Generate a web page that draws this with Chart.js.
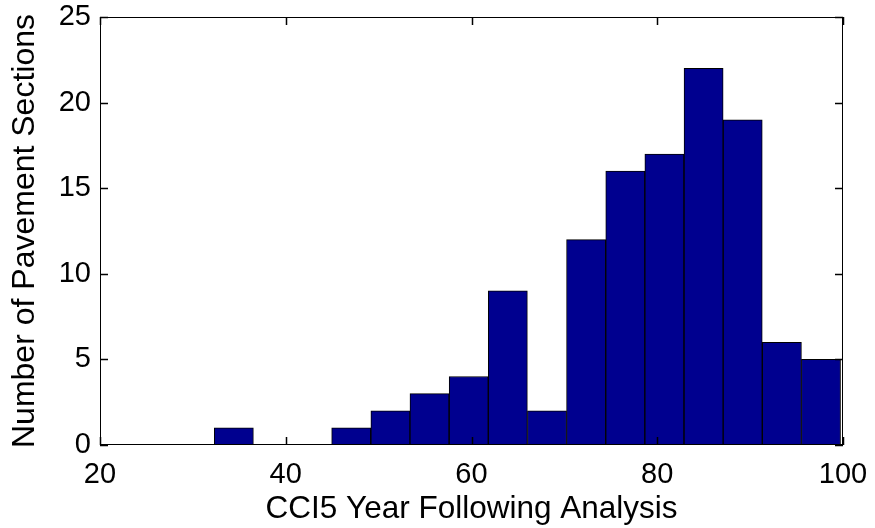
<!DOCTYPE html>
<html>
<head>
<meta charset="utf-8">
<title>CCI histogram</title>
<script src="https://cdn.jsdelivr.net/npm/chart.js@4"></script>
<style>
    html, body { margin: 0; padding: 0; background: #ffffff; }
    #wrap { width: 875px; height: 528px; }
</style>
</head>
<body>
<div id="wrap"><canvas id="histChart" width="875" height="528"></canvas></div>
<script>
// bin centres of the 16-bin histogram and the section counts in each bin
const binCenters = [34.41, 38.62, 42.84, 47.05, 51.27, 55.48, 59.70, 63.91,
                    68.13, 72.34, 76.56, 80.77, 84.99, 89.20, 93.42, 97.63];
const sectionCounts = [1, 0, 0, 1, 2, 3, 4, 9, 2, 12, 16, 17, 22, 19, 6, 5];

const xTicks = [20, 40, 60, 80, 100];
const yTicks = [0, 5, 10, 15, 20, 25];

const xLabel = 'CCI5 Year Following Analysis';
const yLabel = 'Number of Pavement Sections';

const FONT = "'Liberation Sans', Arial, sans-serif";

// boxed axes with short inward ticks on all four sides
const boxTicks = {
    id: 'boxTicks',
    afterDraw(chart) {
        const { ctx, chartArea: a, scales } = chart;
        const len = 8;
        ctx.save();
        ctx.strokeStyle = '#000000';
        ctx.lineWidth = 1;
        ctx.strokeRect(a.left + 0.5, a.top + 0.5, a.right - a.left - 1, a.bottom - a.top - 1);
        ctx.lineWidth = 1.5;
        ctx.beginPath();
        xTicks.forEach(v => {
            const px = Math.round(scales.x.getPixelForValue(v)) + 0.5;
            ctx.moveTo(px, a.bottom);
            ctx.lineTo(px, a.bottom - len);
            ctx.moveTo(px, a.top);
            ctx.lineTo(px, a.top + len);
        });
        yTicks.forEach(v => {
            const py = Math.round(scales.y.getPixelForValue(v)) + 0.5;
            ctx.moveTo(a.left, py);
            ctx.lineTo(a.left + len, py);
            ctx.moveTo(a.right, py);
            ctx.lineTo(a.right - len, py);
        });
        ctx.stroke();
        ctx.restore();
    }
};

// fixed axis box size; label overhang is left to the layout padding
function fixBox(scale, w, h) {
    if (w !== null) scale.width = w;
    if (h !== null) scale.height = h;
    scale.paddingTop = 0;
    scale.paddingBottom = 0;
    scale.paddingLeft = 0;
    scale.paddingRight = 0;
}

document.addEventListener('DOMContentLoaded', () => {
    const ctx = document.getElementById('histChart').getContext('2d');

    new Chart(ctx, {
        type: 'bar',
        data: {
            datasets: [{
                data: binCenters.map((x, i) => ({ x: x, y: sectionCounts[i] })),
                backgroundColor: '#00008f',
                borderColor: '#000000',
                borderWidth: 1,
                borderSkipped: false,
                barPercentage: 1,
                categoryPercentage: 1
            }]
        },
        options: {
            responsive: false,
            animation: false,
            devicePixelRatio: 1,
            layout: { padding: { top: 17, right: 32, left: 0, bottom: 0 } },
            plugins: {
                legend: { display: false },
                tooltip: { enabled: false }
            },
            scales: {
                x: {
                    type: 'linear',
                    min: 20,
                    max: 100,
                    offset: false,
                    afterBuildTicks: scale => {
                        scale.ticks = xTicks.map(v => ({ value: v }));
                    },
                    afterFit: scale => fixBox(scale, null, 83),
                    grid: { display: false, drawTicks: false },
                    border: { display: false },
                    ticks: {
                        color: '#000000',
                        padding: 13,
                        maxRotation: 0,
                        font: { family: FONT, size: 29 }
                    },
                    title: {
                        display: true,
                        text: xLabel,
                        color: '#000000',
                        padding: { top: 0, bottom: 0 },
                        font: { family: FONT, size: 31.5 }
                    }
                },
                y: {
                    min: 0,
                    max: 25,
                    afterBuildTicks: scale => {
                        scale.ticks = yTicks.map(v => ({ value: v }));
                    },
                    afterFit: scale => fixBox(scale, 100, null),
                    grid: { display: false, drawTicks: false },
                    border: { display: false },
                    ticks: {
                        color: '#000000',
                        padding: 9,
                        font: { family: FONT, size: 29 }
                    },
                    title: {
                        display: true,
                        text: yLabel,
                        color: '#000000',
                        padding: { top: 6, bottom: 0 },
                        font: { family: FONT, size: 32 }
                    }
                }
            }
        },
        plugins: [boxTicks]
    });
});
</script>
</body>
</html>
